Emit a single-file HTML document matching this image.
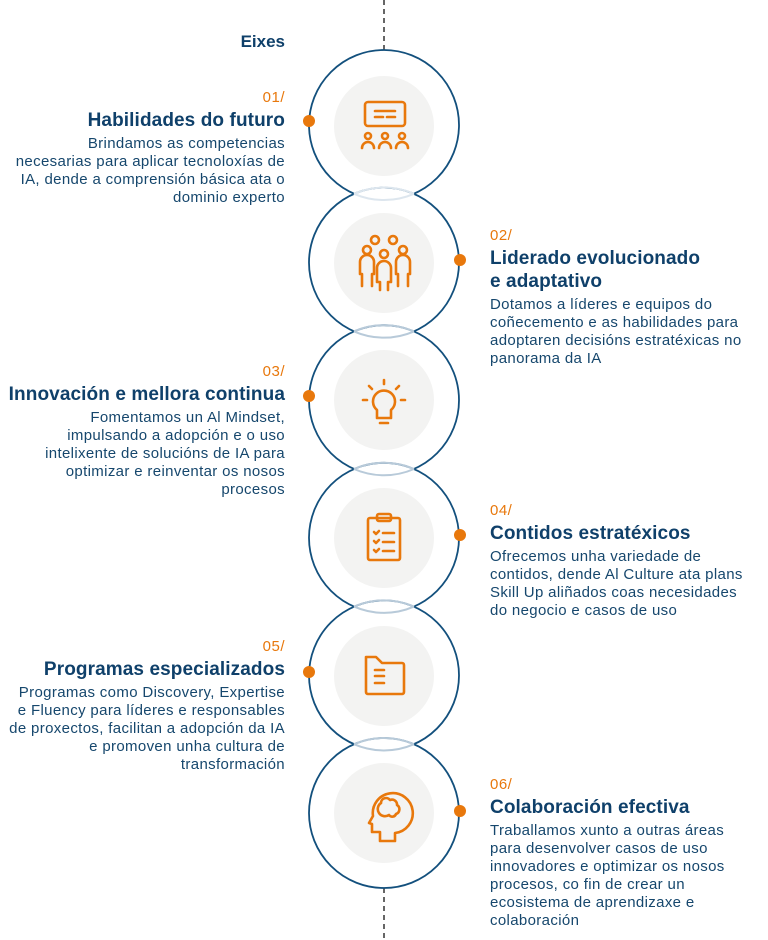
<!DOCTYPE html>
<html><head><meta charset="utf-8"><style>
html,body{margin:0;padding:0;background:#fff;}
body{width:768px;height:940px;position:relative;overflow:hidden;font-family:"Liberation Sans",sans-serif;color:#16476d;}
.t{position:absolute;width:300px;white-space:nowrap;}
.L{right:483px;text-align:right;}
.R{left:490px;text-align:left;width:278px;}
.n{color:#e8780c;font-size:15px;line-height:18px;letter-spacing:0.5px;}
.h{font-weight:bold;font-size:19px;line-height:23px;color:#0f406a;margin:2px 0 3px;letter-spacing:0.1px;}
.b{font-size:15px;line-height:18px;letter-spacing:0.35px;}
</style></head><body>
<svg width="768" height="940" style="position:absolute;left:0;top:0">
<line x1="384" y1="0" x2="384" y2="50" stroke="#666" stroke-width="2" stroke-dasharray="5,4"/>
<line x1="384" y1="888" x2="384" y2="940" stroke="#666" stroke-width="2" stroke-dasharray="5,4"/>
<g fill="#fff" stroke="#13507d" stroke-width="1.8">
<circle cx="384" cy="125" r="75"/>
<circle cx="384" cy="262.6" r="75"/>
<circle cx="384" cy="400.2" r="75"/>
<circle cx="384" cy="537.8" r="75"/>
<circle cx="384" cy="675.4" r="75"/>
<circle cx="384" cy="813" r="75"/>
</g>
<g fill="none" stroke-width="2">
<path d="M354,193.8 A75,75 0 0 0 414,193.8 M354,193.8 A75,75 0 0 1 414,193.8" stroke="#dde6ee"/>
<path d="M354,331.4 A75,75 0 0 0 414,331.4 M354,331.4 A75,75 0 0 1 414,331.4" stroke="#b8cad9"/>
<path d="M354,469 A75,75 0 0 0 414,469 M354,469 A75,75 0 0 1 414,469" stroke="#b8cad9"/>
<path d="M354,606.6 A75,75 0 0 0 414,606.6 M354,606.6 A75,75 0 0 1 414,606.6" stroke="#b8cad9"/>
<path d="M354,744.2 A75,75 0 0 0 414,744.2 M354,744.2 A75,75 0 0 1 414,744.2" stroke="#b8cad9"/>
</g>
<g fill="#f3f3f2">
<circle cx="384" cy="126" r="50"/>
<circle cx="384" cy="263" r="50"/>
<circle cx="384" cy="400" r="50"/>
<circle cx="384" cy="538" r="50"/>
<circle cx="384" cy="676" r="50"/>
<circle cx="384" cy="813" r="50"/>
</g>
<g fill="#e8780c">
<circle cx="309" cy="121" r="6"/>
<circle cx="460" cy="260" r="6"/>
<circle cx="309" cy="396" r="6"/>
<circle cx="460" cy="535" r="6"/>
<circle cx="309" cy="672" r="6"/>
<circle cx="460" cy="811" r="6"/>
</g>
<g fill="none" stroke="#e8780c" stroke-width="2.6" stroke-linecap="round" stroke-linejoin="round">
<rect x="365" y="102" width="40" height="24" rx="3"/>
<line x1="375" y1="111" x2="395" y2="111"/><line x1="375" y1="117" x2="383" y2="117"/><line x1="387" y1="117" x2="395" y2="117"/>
<circle cx="368" cy="136" r="3"/><circle cx="385" cy="136" r="3"/><circle cx="402" cy="136" r="3"/>
<path d="M362,148 a6,6 0 0 1 12,0 M379,148 a6,6 0 0 1 12,0 M396,148 a6,6 0 0 1 12,0"/>
<circle cx="375" cy="240" r="4"/><circle cx="393" cy="240" r="4"/>
<circle cx="367" cy="250" r="4"/><circle cx="384" cy="254" r="4"/><circle cx="403" cy="250" r="4"/>
<path d="M362,286 v-12 h-2 v-12 a7,7 0 0 1 14,0 v12 h-2 v12"/>
<path d="M398,286 v-12 h-2 v-12 a7,7 0 0 1 14,0 v12 h-2 v12"/>
<path d="M380,290 v-8 h-3 v-14 a7,7 0 0 1 14,0 v14 h-3 v8"/>
<path d="M377,410 a11,11 0 1 1 14,0 v8 h-14 z"/>
<line x1="380" y1="423" x2="388" y2="423"/>
<line x1="384" y1="380" x2="384" y2="384"/><line x1="369" y1="386" x2="372" y2="389"/><line x1="399" y1="386" x2="396" y2="389"/>
<line x1="363" y1="400" x2="367" y2="400"/><line x1="401" y1="400" x2="405" y2="400"/>
<rect x="368" y="518" width="32" height="42" rx="2"/>
<rect x="377" y="514" width="14" height="7" rx="2"/>
<path d="M374,532 l2,2 3,-3 M374,541 l2,2 3,-3 M374,550 l2,2 3,-3"/>
<line x1="383" y1="533" x2="394" y2="533"/><line x1="383" y1="542" x2="394" y2="542"/><line x1="383" y1="551" x2="394" y2="551"/>
<path d="M366,657 h10 l6,6 h20 a2,2 0 0 1 2,2 v27 a2,2 0 0 1 -2,2 h-34 a2,2 0 0 1 -2,-2 z"/>
<line x1="375" y1="670" x2="384" y2="670"/><line x1="375" y1="676" x2="384" y2="676"/><line x1="375" y1="683" x2="384" y2="683"/>
<path d="M380,841 v-9 h-8 v-8 l-3,-1 4,-7 a20,20 0 1 1 22,17 v8 z"/>
<path d="M381,803 a5,5 0 0 1 9,-3 a5,5 0 0 1 7,5 a5,5 0 0 1 -1,9 a4,4 0 0 1 -7,1 a5,5 0 0 1 -8,-12"/>
</g>
</svg>

<div class="t L" style="top:32px;font-weight:bold;font-size:17px;line-height:20px;color:#0f406a">Eixes</div>

<div class="t L" style="top:89px"><div class="n">01/</div><div class="h">Habilidades do futuro</div><div class="b">Brindamos as competencias<br>necesarias para aplicar tecnoloxías de<br>IA, dende a comprensión básica ata o<br>dominio experto</div></div>

<div class="t R" style="top:227px"><div class="n">02/</div><div class="h">Liderado evolucionado<br>e adaptativo</div><div class="b">Dotamos a líderes e equipos do<br>coñecemento e as habilidades para<br>adoptaren decisións estratéxicas no<br>panorama da IA</div></div>

<div class="t L" style="top:363px"><div class="n">03/</div><div class="h">Innovación e mellora continua</div><div class="b">Fomentamos un Al Mindset,<br>impulsando a adopción e o uso<br>intelixente de solucións de IA para<br>optimizar e reinventar os nosos<br>procesos</div></div>

<div class="t R" style="top:502px"><div class="n">04/</div><div class="h">Contidos estratéxicos</div><div class="b">Ofrecemos unha variedade de<br>contidos, dende Al Culture ata plans<br>Skill Up aliñados coas necesidades<br>do negocio e casos de uso</div></div>

<div class="t L" style="top:638px"><div class="n">05/</div><div class="h">Programas especializados</div><div class="b">Programas como Discovery, Expertise<br>e Fluency para líderes e responsables<br>de proxectos, facilitan a adopción da IA<br>e promoven unha cultura de<br>transformación</div></div>

<div class="t R" style="top:776px"><div class="n">06/</div><div class="h">Colaboración efectiva</div><div class="b">Traballamos xunto a outras áreas<br>para desenvolver casos de uso<br>innovadores e optimizar os nosos<br>procesos, co fin de crear un<br>ecosistema de aprendizaxe e<br>colaboración</div></div>
</body></html>
